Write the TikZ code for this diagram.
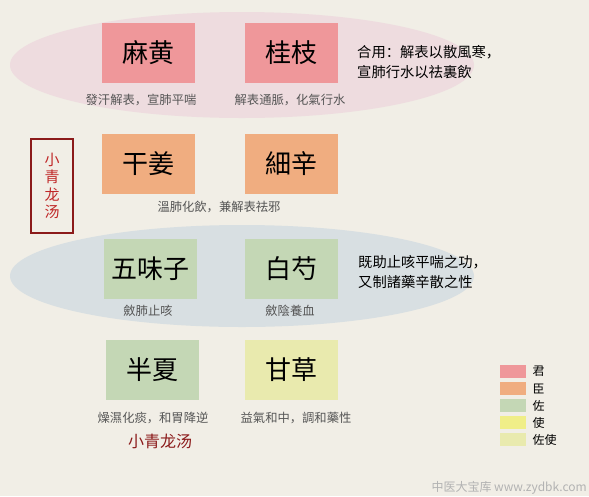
\documentclass[tikz,border=0pt]{standalone}
\usepackage{fontspec}
\setmainfont{Liberation Sans}
\newfontfamily\cjk{Noto Sans CJK SC}
\definecolor{bg}{HTML}{F1EEE6}
\definecolor{pinkell}{HTML}{EEDCDF}
\definecolor{blueell}{HTML}{D8DFE2}
\definecolor{jun}{HTML}{EF979A}
\definecolor{chen}{HTML}{F0AD80}
\definecolor{zuo}{HTML}{C4D7B5}
\definecolor{shi}{HTML}{F0EE88}
\definecolor{zuoshi}{HTML}{E9EAAE}
\definecolor{darkred}{HTML}{8B1A1A}
\definecolor{titlered}{HTML}{C02828}
\definecolor{capgray}{HTML}{555555}
\tikzset{
  herb/.style={minimum width=93pt, minimum height=60pt, inner sep=0pt, font=\cjk\fontsize{26}{26}\selectfont, text=black},
  captext/.style={font=\cjk\fontsize{12.3}{13}\selectfont, text=capgray, inner sep=0pt},
  notetext/.style={font=\cjk\fontsize{14.3}{20.5}\selectfont, align=left, anchor=west, inner sep=0pt},
  legbox/.style={minimum width=26pt, minimum height=13pt, inner sep=0pt, anchor=north west},
  leglab/.style={font=\cjk\fontsize{12}{12}\selectfont, anchor=west, inner sep=0pt}
}
\begin{document}
\begin{tikzpicture}[x=1pt,y=-1pt]
\fill[bg] (0,0) rectangle (589,496);
\useasboundingbox (0,0) rectangle (589,496);
% ellipses
\fill[pinkell] (242,65) ellipse [x radius=232, y radius=53];
\fill[blueell] (242,276) ellipse [x radius=232, y radius=51];
% row 1
\node[herb, fill=jun] (mahuang) at (148.5,53) {麻黄};
\node[herb, fill=jun] (guizhi) at (291.5,53) {桂枝};
\node[captext] (c1) at (141,100) {發汗解表，宣肺平喘};
\node[captext] (c2) at (290,100) {解表通脈，化氣行水};
\node[notetext] (n1) at (357,62) {合用：解表以散風寒，\\宣肺行水以祛裏飲};
% row 2
\node[herb, fill=chen] (ganjiang) at (148.5,163.5) {干姜};
\node[herb, fill=chen] (xixin) at (291.5,163.5) {細辛};
\node[captext] (c3) at (219,207) {溫肺化飲，兼解表祛邪};
% title box
\node[draw=darkred, line width=2.5pt, minimum width=42pt, minimum height=94pt, inner sep=0pt,
      text=titlered, font=\cjk\fontsize{15}{17.5}\selectfont, align=center] (title) at (52,186) {小\\青\\龙\\汤};
% row 3
\node[herb, fill=zuo] (wuweizi) at (150.5,269) {五味子};
\node[herb, fill=zuo] (baishao) at (291.5,269) {白芍};
\node[captext] (c4) at (148,311) {斂肺止咳};
\node[captext] (c5) at (290,311) {斂陰養血};
\node[notetext] (n2) at (358,272) {既助止咳平喘之功，\\又制諸藥辛散之性};
% row 4
\node[herb, fill=zuo] (banxia) at (152.5,370) {半夏};
\node[herb, fill=zuoshi] (gancao) at (291.5,370) {甘草};
\node[captext] (c6) at (153,418) {燥濕化痰，和胃降逆};
\node[captext] (c7) at (296,418) {益氣和中，調和藥性};
\node[font=\cjk\fontsize{16}{16}\selectfont, text=darkred, inner sep=0pt] (bottomtitle) at (160,441) {小青龙汤};
% legend
\node[legbox, fill=jun] (l1) at (500,365) {};
\node[legbox, fill=chen] (l2) at (500,382) {};
\node[legbox, fill=zuo] (l3) at (500,399) {};
\node[legbox, fill=shi] (l4) at (500,416) {};
\node[legbox, fill=zuoshi] (l5) at (500,433) {};
\node[leglab] (t1) at ([xshift=6pt]l1.east) {君};
\node[leglab] (t2) at ([xshift=6pt]l2.east) {臣};
\node[leglab] (t3) at ([xshift=6pt]l3.east) {佐};
\node[leglab] (t4) at ([xshift=6pt]l4.east) {使};
\node[leglab] (t5) at ([xshift=6pt]l5.east) {佐使};
% watermark
\node[anchor=east, inner sep=0pt, text=black!30, font=\cjk\fontsize{12}{12}\selectfont] (wm) at (587,488) {中医大宝库 www.zydbk.com};
\end{tikzpicture}
\end{document}
